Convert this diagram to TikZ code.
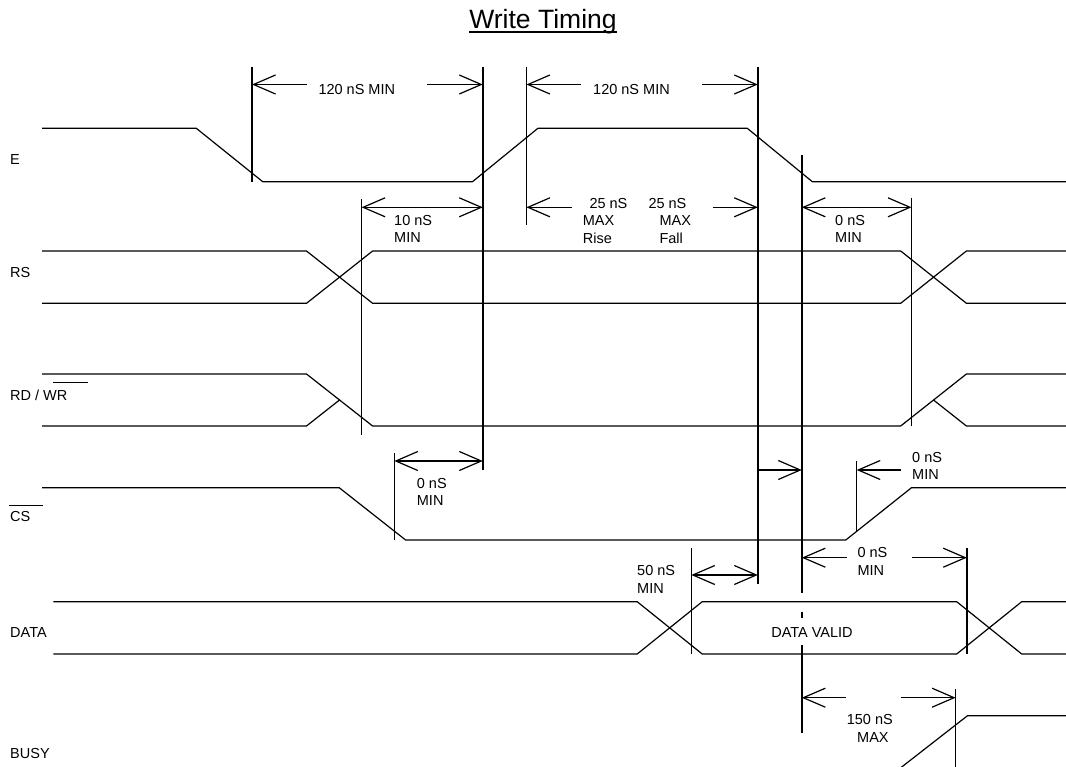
\documentclass[tikz,border=0pt]{standalone}
\usepackage{fontspec}
\setmainfont{Liberation Sans}
\usetikzlibrary{arrows.meta}
\begin{document}
\begin{tikzpicture}[x=1pt,y=-1pt,line join=round,
  font=\fontsize{14.5}{17.6}\selectfont,
  every node/.style={inner sep=0pt},
  sig/.style={line width=1.2pt},
  guide/.style={line width=1.5pt},
  dimto/.style={line width=1.2pt,-{Straight Barb[length=22pt,width=19pt]}},
  dimboth/.style={line width=1.2pt,{Straight Barb[length=22pt,width=19pt]}-{Straight Barb[length=22pt,width=19pt]}}]
\useasboundingbox (0,0) rectangle (1066,767);
% title
\node (ttl) [anchor=base,font=\fontsize{26.5}{31}\selectfont] at (543,28.3) {Write Timing};
\draw[line width=1.8pt] ([yshift=-4pt]ttl.base west)--([yshift=-4pt]ttl.base east);
% signals
\draw[sig](42,128.3)--(196.3,128.3)--(262.7,181.7)--(472.5,181.7)--(537.9,128.3)--(747.3,128.3)--(812.3,181.7)--(1066,181.7);
\draw[sig](42,251)--(306.5,251)--(372.6,303.3)--(900.7,303.3)--(966.4,251)--(1066,251);
\draw[sig](42,303.3)--(306.5,303.3)--(372.6,251)--(900.7,251)--(966.4,303.3)--(1066,303.3);
\draw[sig](42,374)--(306.5,374)--(372.6,426)--(900.7,426)--(966.4,374)--(1066,374);
\draw[sig](42,426)--(306.5,426)--(339.5,400);
\draw[sig](933.5,400)--(966.4,426)--(1066,426);
\draw[sig](42,487.7)--(339.2,487.7)--(405.6,540)--(845.8,540)--(911.5,487.7)--(1066,487.7);
\draw[sig](53.4,601.7)--(637.2,601.7)--(702.2,654)--(956.7,654)--(1021.7,601.7)--(1066,601.7);
\draw[sig](53.4,654)--(637.2,654)--(702.2,601.7)--(956.7,601.7)--(1021.7,654)--(1066,654);
\draw[sig](900.4,768)--(967.5,715.7)--(1066,715.7);
% guide lines
\draw[guide](252,66.7)--(252,181.7);
\draw[guide](482.8,66.7)--(482.8,470);
\draw[guide](526.4,66.7)--(526.4,225);
\draw[guide](757.8,66.7)--(757.8,584.3);
\draw[guide](801.8,155)--(801.8,593.3);
\draw[guide](801.8,611.7)--(801.8,618.3);
\draw[guide](801.8,645)--(801.8,733.3);
\draw[guide](911.5,198)--(911.5,426);
\draw[guide](361.6,199)--(361.6,435);
\draw[guide](394.3,453.3)--(394.3,540);
\draw[guide](856.7,461)--(856.7,531.7);
\draw[guide](691.3,548.3)--(691.3,654);
\draw[guide](966.8,548.3)--(966.8,654);
\draw[guide](955.6,689.3)--(955.6,767);
% dimensions
\draw[dimto](307,84.5)--(252,84.5);
\draw[dimto](427,84.5)--(482.8,84.5);
\draw[dimto](581,84.5)--(526.4,84.5);
\draw[dimto](702,84.5)--(757.8,84.5);
\draw[dimboth](361.6,207.3)--(482.8,207.3);
\draw[dimto](571.5,207.3)--(526.4,207.3);
\draw[dimto](713,207.3)--(757.8,207.3);
\draw[dimboth](801.8,207.3)--(911.5,207.3);
\draw[dimboth](394.3,461)--(482.8,461);
\draw[dimto](757.8,470)--(801.8,470);
\draw[dimto](900.7,470)--(856.7,470);
\draw[dimboth](691.3,575)--(757.8,575);
\draw[dimto](846.6,557.7)--(801.8,557.7);
\draw[dimto](911.6,557.7)--(966.8,557.7);
\draw[dimto](845.8,697.7)--(801.8,697.7);
\draw[dimto](900.7,697.7)--(955.6,697.7);
% overlines
\draw[line width=1pt](53.4,382.7)--(87.8,382.7);
\draw[line width=1pt](9.3,505)--(43,505);
% texts
\node[anchor=base west] at (318.3,94.5) {120 nS MIN};\node[anchor=base west] at (593,94.5) {120 nS MIN};
\node[anchor=north west,align=left] at (394,214.8) {10 nS\\MIN};\node[anchor=base west] at (589.3,208.3) {25 nS};\node[anchor=north west,align=left] at (582.7,215.5) {MAX\\Rise};
\node[anchor=base west] at (648.3,208.3) {25 nS};\node[anchor=north west,align=left] at (659.3,215.5) {MAX\\Fall};\node[anchor=north west,align=left] at (835,214.8) {0 nS\\MIN};
\node[anchor=north west,align=left] at (416.7,478) {0 nS\\MIN};\node[anchor=north west,align=left] at (912,452) {0 nS\\MIN};\node[anchor=north west,align=left] at (637,565.5) {50 nS\\MIN};
\node[anchor=north west,align=left] at (857.4,547.5) {0 nS\\MIN};\node[anchor=base west] at (846.6,724.5) {150 nS};\node[anchor=base west] at (857,742.2) {MAX};
\node at (812,632.3) {DATA VALID};
\node[anchor=west] at (10,160) {E};\node[anchor=west] at (10,273) {RS};\node[anchor=west] at (10,395.7) {RD / WR};
\node[anchor=west] at (10,517) {CS};\node[anchor=west] at (10,632.3) {DATA};\node[anchor=west] at (10,754) {BUSY};
\end{tikzpicture}
\end{document}
